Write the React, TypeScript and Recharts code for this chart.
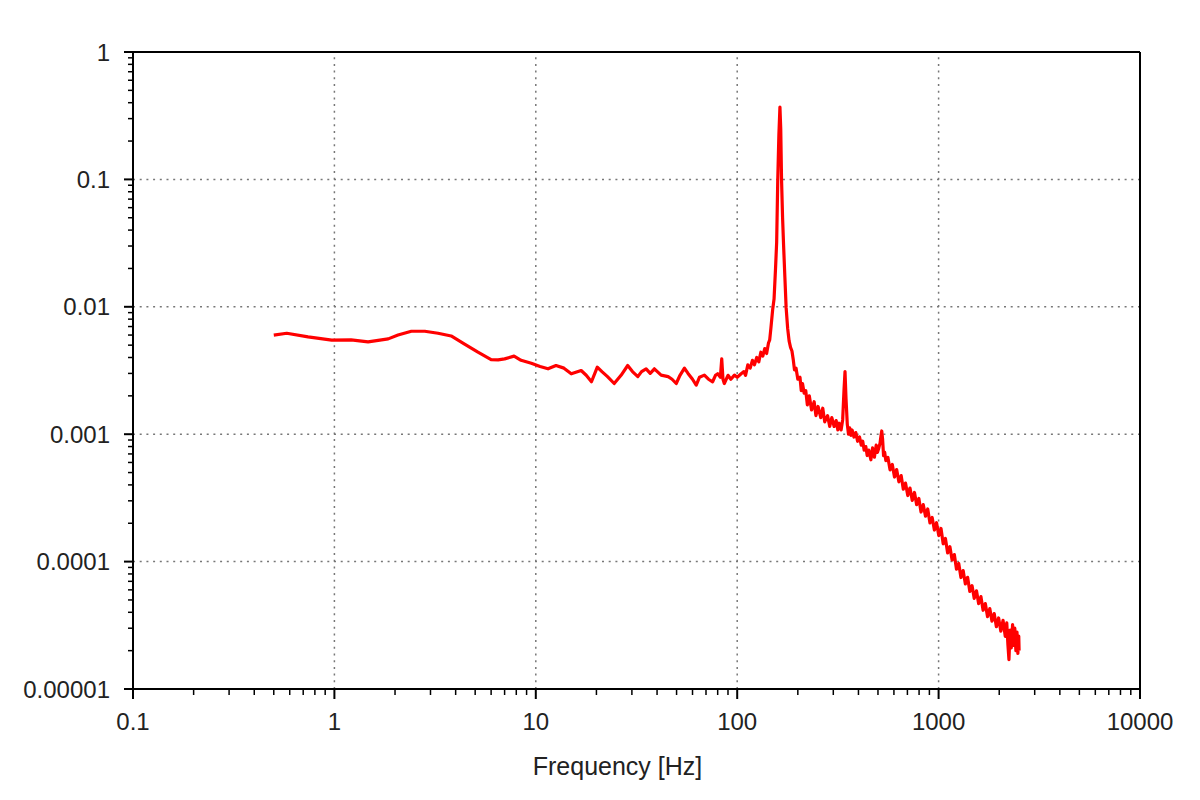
import React from 'react';
import { LineChart, Line, XAxis, YAxis, ReferenceLine } from 'recharts';

// Frequency [Hz]
const FREQ = [
  0.5, 0.58, 0.74, 0.97, 1.21, 1.47, 1.85, 2.07, 2.41, 2.81, 3.27, 3.8, 4.43, 5.16, 6.0, 6.5, 7.0, 7.8, 8.45, 9.5,
  10.5, 11.5, 12.6, 13.8, 15.0, 16.8, 17.8, 18.9, 20.2, 21.3, 22.7, 24.5, 26.5, 28.6, 30.2, 32.1, 33.5, 35.3, 37, 38.8,
  41.9, 45.4, 47.5, 49.8, 52, 54.7, 57, 60, 62.6, 65, 68.7, 72, 75.5, 78, 80, 82.5, 83.8, 85, 86.3, 90,
  93, 96.9, 100, 104.6, 108, 110, 112.9, 116, 119, 121.8, 125, 128, 131, 134, 137, 140, 143, 145, 147, 150,
  152.4, 155, 157, 159, 161, 163, 164.5, 166, 168, 170, 172.5, 175, 178, 181, 184, 187,
  190, 192.5, 196, 200, 205, 208, 211, 215, 219, 223, 228, 234, 241, 246, 252, 260, 266, 272, 281, 288,
  295, 303, 310, 316, 321, 328, 334, 339, 343, 347, 352, 357, 362, 367, 372, 380, 388, 396, 405, 413,
  420, 427, 435, 442, 450, 461, 470, 480, 490, 497, 505, 512, 518, 522, 527, 533, 540, 547,
  560, 574, 589, 604, 619, 635, 652, 668, 685, 703, 721, 740, 759, 778, 798, 818, 839, 861, 883, 906,
  929, 953, 977, 1002, 1028, 1054, 1081, 1109, 1138, 1167, 1197, 1227, 1259, 1291, 1324, 1358, 1393, 1429, 1466, 1503,
  1542, 1581, 1622, 1663, 1706, 1750, 1795, 1841, 1888, 1936, 1986, 2037, 2089, 2143, 2180, 2210, 2235, 2265, 2295, 2330,
  2360, 2390, 2420, 2450, 2475, 2500, 2510,
];

// Spectrum amplitude
const AMP = [
  0.006, 0.0062, 0.0058, 0.00548, 0.0055, 0.0053, 0.0056, 0.006, 0.00643, 0.00643, 0.0062, 0.0059, 0.0051, 0.0044, 0.00385, 0.00383, 0.0039, 0.0041, 0.0038, 0.0036,
  0.0034, 0.00326, 0.00346, 0.0033, 0.00298, 0.00316, 0.0029, 0.00258, 0.00336, 0.0031, 0.00283, 0.0025, 0.0029, 0.00346, 0.0031, 0.00283, 0.0031, 0.00326, 0.003, 0.00326,
  0.00291, 0.00283, 0.0027, 0.0025, 0.0029, 0.0033, 0.003, 0.0027, 0.00243, 0.0028, 0.00291, 0.0027, 0.00258, 0.0029, 0.00298, 0.0028, 0.0039, 0.0027, 0.0025, 0.0029,
  0.0027, 0.00291, 0.0028, 0.00298, 0.0031, 0.0029, 0.0035, 0.0033, 0.0038, 0.0035, 0.004, 0.0037, 0.0044, 0.0041, 0.0047, 0.0043, 0.0052, 0.0055, 0.0068, 0.0095,
  0.0115, 0.02, 0.032, 0.1, 0.22, 0.37, 0.25, 0.1, 0.05, 0.03, 0.017, 0.0098, 0.0068, 0.0054, 0.0048, 0.0045,
  0.0038, 0.0032, 0.0033, 0.0027, 0.0028, 0.0022, 0.0025, 0.0021, 0.0022, 0.0017, 0.002, 0.00155, 0.0018, 0.0014, 0.00165, 0.00135, 0.0016, 0.00125, 0.0014, 0.00115,
  0.00135, 0.00115, 0.00128, 0.00108, 0.00122, 0.00108, 0.0013, 0.0022, 0.0031, 0.0019, 0.0012, 0.001, 0.00112, 0.00098, 0.00108, 0.00095, 0.00103, 0.00088, 0.00095, 0.00082,
  0.00088, 0.00075, 0.0008, 0.00068, 0.00075, 0.00063, 0.00078, 0.00066, 0.00082, 0.00072, 0.00078, 0.00085, 0.00098, 0.00106, 0.00092, 0.00068, 0.00072, 0.00062,
  0.000658, 0.000525, 0.000578, 0.000461, 0.000528, 0.000423, 0.000473, 0.00037, 0.000413, 0.00033, 0.000378, 0.000302, 0.000349, 0.00028, 0.000313, 0.000245, 0.00028, 0.000227, 0.000259, 0.000201,
  0.000222, 0.000177, 0.000202, 0.00016, 0.000182, 0.000138, 0.000152, 0.000117, 0.000131, 0.000103, 0.0001135, 0.0000871, 0.0000966, 0.000075, 0.0000851, 0.0000668, 0.0000752, 0.0000583, 0.0000647, 0.0000514,
  0.000059, 0.0000468, 0.0000531, 0.0000415, 0.0000468, 0.000037, 0.0000428, 0.0000341, 0.0000391, 0.0000308, 0.0000361, 0.0000284, 0.0000346, 0.0000259, 0.000033, 0.000022, 0.000017, 0.000029, 0.000021, 0.000032,
  0.000022, 0.00003, 0.00002, 0.000028, 0.000019, 0.000026, 0.00002,
];

const X_MAJOR = [0.1, 1, 10, 100, 1000, 10000];
const X_LABELS = ['0.1', '1', '10', '100', '1000', '10000'];
const Y_MAJOR = [0.00001, 0.0001, 0.001, 0.01, 0.1, 1];
const Y_LABELS = ['0.00001', '0.0001', '0.001', '0.01', '0.1', '1'];
const MINOR_MULT = [2, 3, 4, 5, 6, 7, 8, 9];

const X_GRID = [1, 10, 100, 1000];
const Y_GRID = [0.1, 0.01, 0.001, 0.0001];

const buildTicks = (majors: number[]) => {
  const out: number[] = [];
  majors.forEach((m, i) => {
    out.push(m);
    if (i < majors.length - 1) MINOR_MULT.forEach((k) => out.push(parseFloat((m * k).toPrecision(6))));
  });
  return out;
};

const X_TICKS = buildTicks(X_MAJOR);
const Y_TICKS = buildTicks(Y_MAJOR);

const data = FREQ.map((f, i) => ({ f, v: AMP[i] }));

const FONT = '"Liberation Sans", Arial, Helvetica, sans-serif';

const XTick = (props: any) => {
  const { x, y, payload } = props;
  const idx = X_MAJOR.indexOf(payload.value);
  const major = idx >= 0;
  return (
    <g>
      <line x1={x} x2={x} y1={y} y2={y + (major ? 10 : 6)} stroke="#000" strokeWidth={major ? 2 : 1.5} />
      {major && (
        <text x={x} y={y + 41} textAnchor="middle" fontSize={24} fill="#222" fontFamily={FONT}>
          {X_LABELS[idx]}
        </text>
      )}
    </g>
  );
};

const YTick = (props: any) => {
  const { x, y, payload } = props;
  const idx = Y_MAJOR.indexOf(payload.value);
  const major = idx >= 0;
  return (
    <g>
      <line x1={x} x2={x - (major ? 9 : 5)} y1={y} y2={y} stroke="#000" strokeWidth={major ? 2 : 1.5} />
      {major && (
        <text x={x - 23} y={y + 8.5} textAnchor="end" fontSize={24} fill="#222" fontFamily={FONT}>
          {Y_LABELS[idx]}
        </text>
      )}
    </g>
  );
};

export default function App() {
  return (
    <div style={{ position: 'absolute', left: 0, top: 0, width: 1200, height: 800, background: '#fff', fontFamily: FONT }}>
      <LineChart width={1200} height={800} data={data} margin={{ top: 52, right: 60, left: 0, bottom: 0 }}>
        {X_GRID.map((g) => (
          <ReferenceLine key={'gx' + g} x={g} stroke="#777" strokeWidth={1.5} strokeDasharray="2 4.7" />
        ))}
        {Y_GRID.map((g) => (
          <ReferenceLine key={'gy' + g} y={g} stroke="#777" strokeWidth={1.5} strokeDasharray="2 4.7" />
        ))}
        <ReferenceLine y={1} stroke="#000" strokeWidth={2} />
        <ReferenceLine x={10000} stroke="#000" strokeWidth={2} />
        <XAxis
          dataKey="f"
          type="number"
          scale="log"
          domain={[0.1, 10000]}
          ticks={X_TICKS}
          interval={0}
          allowDataOverflow
          height={111}
          tickSize={0}
          tickMargin={0}
          tickLine={false}
          tick={<XTick />}
          axisLine={{ stroke: '#000', strokeWidth: 2 }}
          label={{ value: 'Frequency [Hz]', position: 'insideBottom', offset: 25, dx: -19, fontSize: 25, fill: '#222', fontFamily: FONT }}
        />
        <YAxis
          type="number"
          scale="log"
          domain={[0.00001, 1]}
          ticks={Y_TICKS}
          interval={0}
          allowDataOverflow
          width={133}
          tickSize={0}
          tickMargin={0}
          tickLine={false}
          tick={<YTick />}
          axisLine={{ stroke: '#000', strokeWidth: 2 }}
        />
        <Line
          type="linear"
          dataKey="v"
          stroke="#ff0000"
          strokeWidth={3.2}
          dot={false}
          isAnimationActive={false}
          strokeLinejoin="round"
        />
      </LineChart>
    </div>
  );
}
